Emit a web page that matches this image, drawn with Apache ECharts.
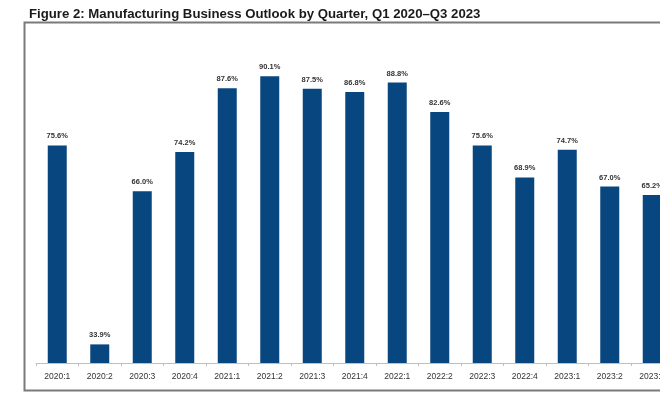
<!DOCTYPE html>
<html>
<head>
<meta charset="utf-8">
<script src="https://cdn.jsdelivr.net/npm/echarts@6/dist/echarts.min.js"></script>
<style>
  html, body { margin: 0; padding: 0; background: #fff; overflow: hidden; }
  #chart { width: 700px; height: 395px; }
</style>
</head>
<body>
<div id="chart"></div>
<script>
// Quarterly share of manufacturers reporting a positive business outlook (%)
const quarters = ['2020:1', '2020:2', '2020:3', '2020:4', '2021:1', '2021:2', '2021:3', '2021:4',
                  '2022:1', '2022:2', '2022:3', '2022:4', '2023:1', '2023:2', '2023:3'];
const outlook = [75.6, 33.9, 66.0, 74.2, 87.6, 90.1, 87.5, 86.8, 88.8, 82.6, 75.6, 68.9, 74.7, 67.0, 65.2];

const titleText = 'Figure 2: Manufacturing Business Outlook by Quarter, Q1 2020\u2013Q3 2023';

const chart = echarts.init(document.getElementById('chart'), null, { renderer: 'canvas' });

chart.setOption({
  animation: false,
  backgroundColor: '#ffffff',
  title: {
    text: titleText,
    left: 24,
    top: 3,
    textStyle: {
      fontFamily: 'Liberation Sans, Arial, sans-serif',
      fontSize: 13.2,
      fontWeight: 'bold',
      color: '#1a1a1a'
    }
  },
  graphic: [
    {
      type: 'polyline',
      shape: { points: [[720, 22.5], [24.5, 22.5], [24.5, 390.5], [720, 390.5]] },
      style: { stroke: '#7a7a7a', lineWidth: 2, fill: null }
    }
  ],
  grid: { left: 36, top: 29, width: 637.5, height: 334, containLabel: false },
  xAxis: {
    type: 'category',
    data: quarters,
    boundaryGap: true,
    axisLine: { show: true, lineStyle: { color: '#bfbfbf', width: 1 } },
    axisTick: { show: true, alignWithLabel: false, length: 3, lineStyle: { color: '#bfbfbf' } },
    axisLabel: {
      interval: 0,
      margin: 9,
      fontFamily: 'Liberation Sans, Arial, sans-serif',
      fontSize: 8.5,
      color: '#333333'
    }
  },
  yAxis: {
    type: 'value',
    min: 30,
    max: 100,
    show: false,
    splitLine: { show: false }
  },
  series: [{
    type: 'bar',
    data: outlook,
    barWidth: 19,
    itemStyle: { color: '#08467f' },
    label: {
      show: true,
      position: 'top',
      distance: 5,
      formatter: p => p.value.toFixed(1) + '%',
      fontFamily: 'Liberation Sans, Arial, sans-serif',
      fontSize: 7.5,
      fontWeight: 'bold',
      color: '#333333'
    }
  }]
});
</script>
</body>
</html>
